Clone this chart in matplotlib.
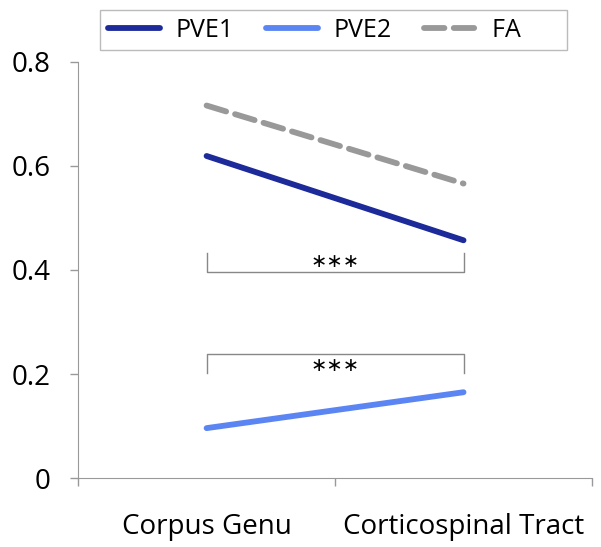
import matplotlib
matplotlib.use('Agg')
import matplotlib.pyplot as plt
import numpy as np

plt.rcParams['font.family'] = ['Open Sans', 'DejaVu Sans']

# data
categories = ['Corpus Genu', 'Corticospinal Tract']
pve1 = [0.619, 0.457]
pve2 = [0.096, 0.165]
fa = [0.716, 0.566]
yticks = [0, 0.2, 0.4, 0.6, 0.8]

fig = plt.figure(figsize=(6.01, 5.47), dpi=100)
ax = fig.add_axes([0.13, 0.126, 0.855, 0.761])

x = np.arange(len(categories)) + 0.5
l1, = ax.plot(x, pve1, color='#1c2a9a', lw=4.2, solid_capstyle='round', label='PVE1')
l2, = ax.plot(x, pve2, color='#5b85f3', lw=4.2, solid_capstyle='round', label='PVE2')
l3, = ax.plot(x, fa, color='#999999', lw=4.2, dashes=(3.5, 1.6), dash_capstyle='round', label='FA      ')

# significance brackets
bc = '#888888'
ax.plot([x[0], x[0], x[1], x[1]], [0.433, 0.396, 0.396, 0.433], color=bc, lw=1.0)
ax.text(x.mean(), 0.417, '\u2217\u2217\u2217', ha='center', va='center', fontsize=14, family='DejaVu Sans')
ax.plot([x[0], x[0], x[1], x[1]], [0.202, 0.238, 0.238, 0.202], color=bc, lw=1.0)
ax.text(x.mean(), 0.216, '\u2217\u2217\u2217', ha='center', va='center', fontsize=14, family='DejaVu Sans')

ax.set_xlim(0, 2)
ax.set_ylim(0, 0.8)
ax.set_yticks(yticks)
ax.set_yticklabels(['0', '0.2', '0.4', '0.6', '0.8'], fontsize=20)
ax.set_xticks([0, 1, 2])
ax.set_xticklabels([])
ax.set_xticks(x, minor=True)
ax.set_xticklabels(categories, minor=True, fontsize=20)
ax.tick_params(axis='x', which='minor', length=0, pad=25)
ax.tick_params(axis='both', which='major', length=6, color='#999999', width=1)
ax.tick_params(axis='y', pad=14)
for s in ['top', 'right']:
    ax.spines[s].set_visible(False)
for s in ['left', 'bottom']:
    ax.spines[s].set_color('#999999')

leg = fig.legend(handles=[l1, l2, l3], loc='center', bbox_to_anchor=(0.555, 0.945),
                 ncol=3, fontsize=18, frameon=True, fancybox=False,
                 handlelength=2.1, handletextpad=0.6, columnspacing=1.3,
                 borderpad=0.3, borderaxespad=0)
leg.get_frame().set_edgecolor('#aaaaaa')
leg.get_frame().set_linewidth(1.0)

fig.savefig('out.png', dpi=100)
